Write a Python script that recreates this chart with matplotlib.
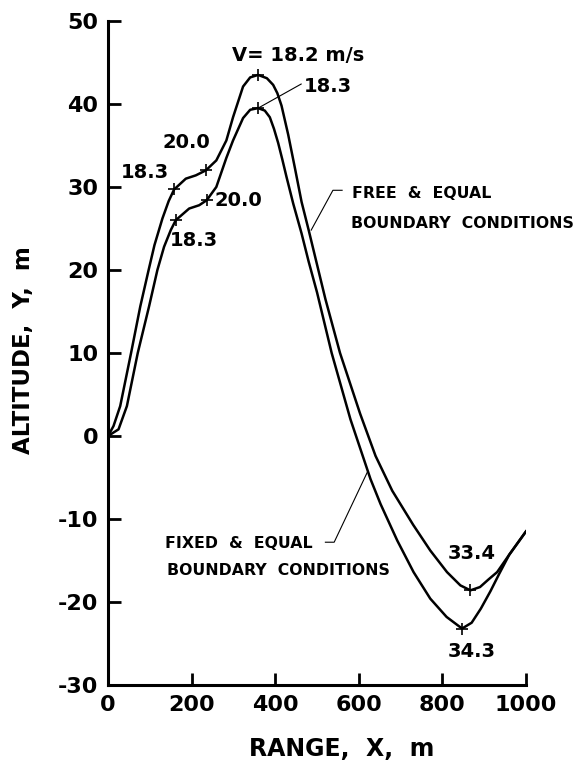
import matplotlib
matplotlib.use("Agg")
import matplotlib.pyplot as plt

# free & equal boundary conditions (upper curve)
free_x = [0, 13, 29, 55, 77, 97, 111, 130, 145, 158, 186, 210, 234, 259, 283, 299,
          323, 340, 359, 380, 395, 405, 415, 431, 447, 463, 480, 520, 555, 603,
          640, 680, 730, 771, 811, 843, 867, 890, 910, 931, 960, 980, 1000]
free_y = [0, 1.2, 3.6, 10.0, 15.6, 20.0, 23.0, 26.2, 28.3, 29.7, 31.0, 31.4, 32.0,
          33.2, 35.6, 38.4, 42.1, 43.2, 43.5, 43.1, 42.3, 41.3, 39.8, 36.3, 32.3,
          28.2, 24.8, 16.5, 10.0, 2.7, -2.4, -6.6, -10.7, -13.8, -16.4, -18.0,
          -18.6, -18.2, -17.3, -16.4, -14.3, -12.9, -11.5]

# fixed & equal boundary conditions (lower curve)
fixed_x = [0, 25, 45, 71, 98, 118, 134, 150, 162, 194, 218, 236, 259, 283, 299, 323,
           340, 359, 375, 387, 397, 407, 417, 427, 443, 463, 480, 500, 535, 580,
           628, 652, 692, 731, 771, 810, 847, 870, 892, 915, 936, 960, 980, 1000]
fixed_y = [0, 0.8, 3.6, 10.0, 15.6, 20.0, 22.8, 24.8, 26.0, 27.4, 27.8, 28.4, 30.0,
           33.5, 35.6, 38.3, 39.3, 39.5, 39.2, 38.4, 37.0, 35.3, 33.3, 31.2, 28.0,
           24.4, 21.0, 17.3, 10.0, 2.0, -5.2, -8.2, -12.6, -16.4, -19.6, -21.8,
           -23.2, -22.5, -20.8, -18.7, -16.6, -14.3, -12.9, -11.5]

# velocity marks on each curve
free_mark_x = [158, 234, 359, 867]
free_mark_y = [29.7, 32.0, 43.5, -18.6]
fixed_mark_x = [162, 236, 359, 847]
fixed_mark_y = [26.0, 28.4, 39.5, -23.2]

xticks = [0, 200, 400, 600, 800, 1000]
yticks = [-30, -20, -10, 0, 10, 20, 30, 40, 50]

plt.rcParams['font.family'] = ['DejaVu Sans']
plt.rcParams['font.weight'] = 'bold'
plt.rcParams['axes.unicode_minus'] = False

fig = plt.figure(figsize=(5.78, 7.65), dpi=100)
ax = fig.add_axes([0.187, 0.1046, 0.723, 0.868])

ax.plot(free_x, free_y, color='black', lw=1.8)
ax.plot(fixed_x, fixed_y, color='black', lw=1.8)
ax.plot(free_mark_x, free_mark_y, '+', color='black', ms=8, mew=1.2)
ax.plot(fixed_mark_x, fixed_mark_y, '+', color='black', ms=8, mew=1.2)

ax.set_xlim(0, 1000)
ax.set_ylim(-30, 50)
ax.set_xticks(xticks)
ax.set_yticks(yticks)
ax.spines['top'].set_visible(False)
ax.spines['right'].set_visible(False)
for s in ['left', 'bottom']:
    ax.spines[s].set_linewidth(2.2)
ax.tick_params(direction='in', length=9, width=2, labelsize=16, pad=7)
for lab in ax.get_xticklabels() + ax.get_yticklabels():
    lab.set_fontweight('bold')

ax.set_xlabel('RANGE,  X,  m', fontsize=17, fontweight='bold')
ax.xaxis.set_label_coords(0.56, -0.078)
ax.set_ylabel('ALTITUDE,  Y,  m', fontsize=16.5, fontweight='bold')
ax.yaxis.set_label_coords(-0.175, 0.505)

# velocity labels
ax.text(455, 45.8, 'V= 18.2 m/s', fontsize=14, fontweight='bold', ha='center', va='center')
ax.text(525, 42.1, '18.3', fontsize=14, fontweight='bold', ha='center', va='center')
ax.plot([359, 462], [39.5, 42.4], color='black', lw=0.8)
ax.text(187, 35.4, '20.0', fontsize=14, fontweight='bold', ha='center', va='center')
ax.text(88, 31.8, '18.3', fontsize=14, fontweight='bold', ha='center', va='center')
ax.text(311, 28.4, '20.0', fontsize=14, fontweight='bold', ha='center', va='center')
ax.text(206, 23.6, '18.3', fontsize=14, fontweight='bold', ha='center', va='center')
ax.text(871, -14.1, '33.4', fontsize=14, fontweight='bold', ha='center', va='center')
ax.text(871, -26.0, '34.3', fontsize=14, fontweight='bold', ha='center', va='center')

# curve captions with leader lines
ax.text(584, 29.2, 'FREE  &  EQUAL', fontsize=11.3, fontweight='heavy', ha='left', va='center')
ax.text(581, 25.6, 'BOUNDARY  CONDITIONS', fontsize=11.3, fontweight='heavy', ha='left', va='center')
ax.plot([560, 538, 486], [29.6, 29.6, 24.8], color='black', lw=0.8)

ax.text(136, -13.0, 'FIXED  &  EQUAL', fontsize=11.3, fontweight='heavy', ha='left', va='center')
ax.text(141, -16.15, 'BOUNDARY  CONDITIONS', fontsize=11.3, fontweight='heavy', ha='left', va='center')
ax.plot([520, 541, 620], [-12.8, -12.8, -4.4], color='black', lw=0.8)

fig.savefig('out.png', dpi=100)
